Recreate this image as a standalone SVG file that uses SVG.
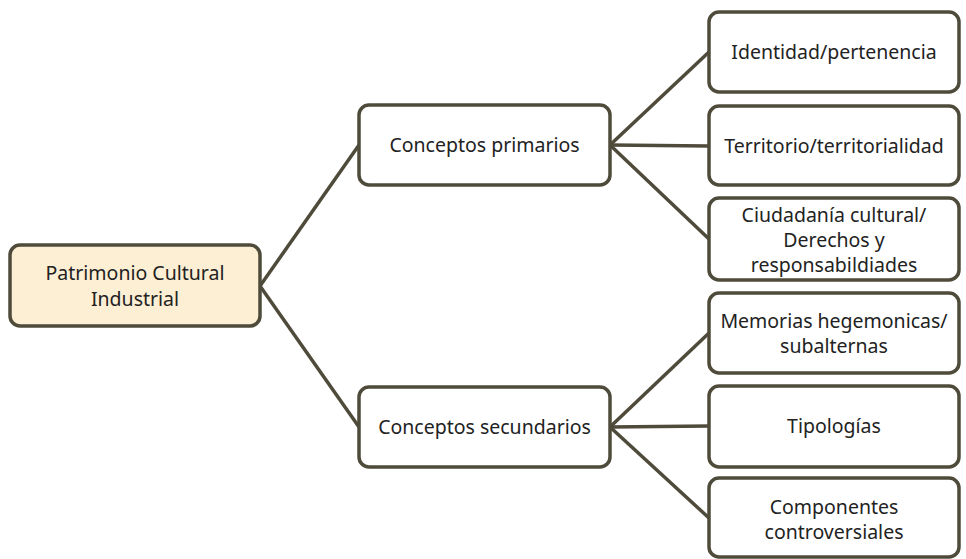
<svg xmlns="http://www.w3.org/2000/svg" width="966" height="559" viewBox="0 0 966 559">
<style>
.box{fill:#ffffff;stroke:#4f4b3b;stroke-width:3.5}
.root{fill:#fdefd4}
.t{font-family:"Noto Sans","Open Sans",sans-serif;font-size:19.5px;fill:#222222;text-anchor:middle}
.c{stroke:#4f4b3b;stroke-width:3.5;fill:none}
</style>
<rect width="966" height="559" fill="#ffffff"/>
<g id="connectors">
<line class="c" x1="260" y1="286" x2="359" y2="145"/>
<line class="c" x1="260" y1="286" x2="359" y2="427"/>
<line class="c" x1="610" y1="145" x2="709" y2="52"/>
<line class="c" x1="610" y1="145" x2="709" y2="146"/>
<line class="c" x1="610" y1="145" x2="709" y2="239"/>
<line class="c" x1="610" y1="427" x2="709" y2="333"/>
<line class="c" x1="610" y1="427" x2="709" y2="426"/>
<line class="c" x1="610" y1="427" x2="709" y2="518"/>
</g>
<g id="root">
<rect class="box root" x="10" y="245" width="250" height="81" rx="10"/>
<text class="t" x="135" y="280">Patrimonio Cultural</text>
<text class="t" x="135" y="306">Industrial</text>
</g>
<g id="primarios">
<rect class="box" x="359" y="105" width="251" height="80" rx="10"/>
<text class="t" x="484.5" y="152">Conceptos primarios</text>
</g>
<g id="secundarios">
<rect class="box" x="359" y="387" width="251" height="80" rx="10"/>
<text class="t" x="484.5" y="434">Conceptos secundarios</text>
</g>
<g id="identidad">
<rect class="box" x="709" y="12" width="250" height="80" rx="10"/>
<text class="t" x="834" y="59">Identidad/pertenencia</text>
</g>
<g id="territorio">
<rect class="box" x="709" y="106" width="250" height="79" rx="10"/>
<text class="t" x="834" y="153">Territorio/territorialidad</text>
</g>
<g id="ciudadania">
<rect class="box" x="709" y="198" width="250" height="82" rx="10"/>
<text class="t" x="834" y="222">Ciudadanía cultural/</text>
<text class="t" x="834" y="247">Derechos y</text>
<text class="t" x="834" y="272">responsabildiades</text>
</g>
<g id="memorias">
<rect class="box" x="709" y="293" width="250" height="80" rx="10"/>
<text class="t" x="834" y="328">Memorias hegemonicas/</text>
<text class="t" x="834" y="353">subalternas</text>
</g>
<g id="tipologias">
<rect class="box" x="709" y="386" width="250" height="81" rx="10"/>
<text class="t" x="834" y="433">Tipologías</text>
</g>
<g id="componentes">
<rect class="box" x="709" y="478" width="250" height="79" rx="10"/>
<text class="t" x="834" y="514">Componentes</text>
<text class="t" x="834" y="539">controversiales</text>
</g>
</svg>
